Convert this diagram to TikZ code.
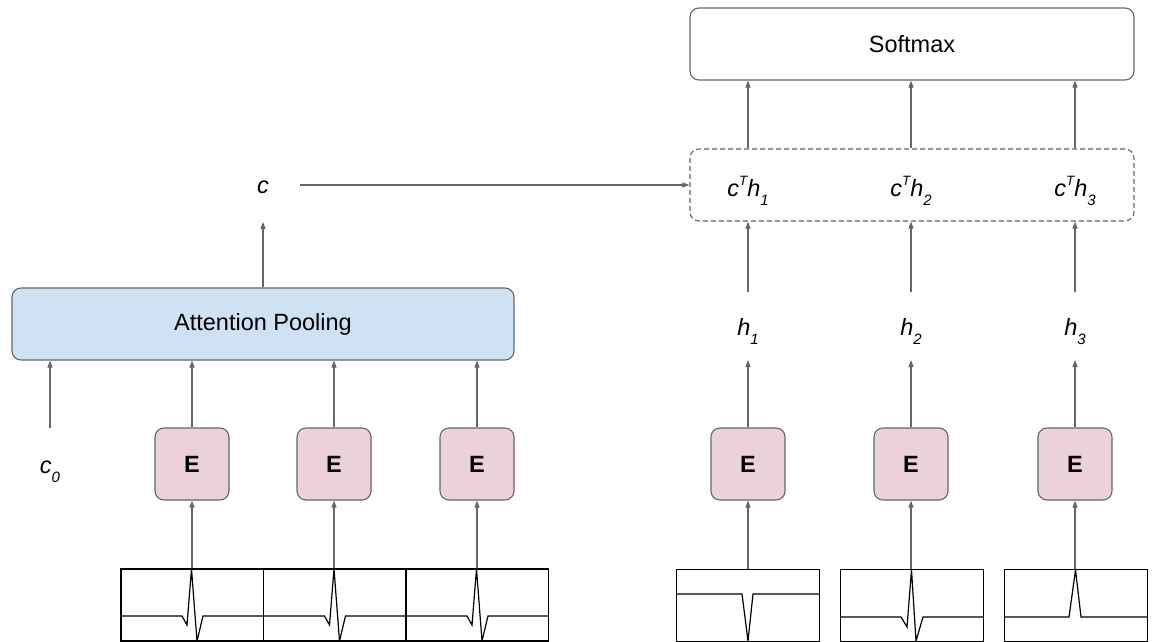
\documentclass[tikz,border=0pt]{standalone}
\usepackage{fontspec}
\setmainfont{Liberation Sans}
\usetikzlibrary{arrows.meta}
\definecolor{lineg}{HTML}{666666}
\definecolor{epink}{HTML}{EAD1DC}
\definecolor{attblue}{HTML}{CFE2F3}
\newcommand{\lowsub}[1]{\raisebox{-9pt}{\fontsize{15}{15}\selectfont\itshape #1}}
\newcommand{\highsup}[1]{\raisebox{10.5pt}{\fontsize{13.5}{14}\selectfont\itshape #1}}
\begin{document}
\begin{tikzpicture}[x=1pt,y=-1pt,
  every node/.style={font=\fontsize{23.5}{28}\selectfont},
  box/.style={draw=lineg, line width=1.1pt, rounded corners=9pt, inner sep=0pt},
  ebox/.style={box, fill=epink, minimum width=74pt, minimum height=72pt},
  bigbox/.style={box, minimum width=444pt, minimum height=72pt},
  wavebox/.style={draw=black, line width=1.2pt, minimum width=142.5pt, minimum height=72pt, inner sep=0pt},
  wave/.style={black, line width=1.2pt, line join=miter},
  arr/.style={draw=lineg, line width=1.1pt, -{Triangle[length=7pt,width=5pt]}},
  lbl/.style={anchor=base, inner sep=0pt}]
\path[use as bounding box] (0,0) rectangle (1155,641);

% top right boxes
\node[bigbox] (soft) at (912,44) {Softmax};
\node[bigbox, dash pattern=on 5pt off 3pt] (dash) at (912,185) {};
\node[lbl] (ct1) at (748,196) {\textit{c}\highsup{T}\textit{h}\lowsub{1}};
\node[lbl] (ct2) at (911,196) {\textit{c}\highsup{T}\textit{h}\lowsub{2}};
\node[lbl] (ct3) at (1075,196) {\textit{c}\highsup{T}\textit{h}\lowsub{3}};

% attention pooling
\node[box, fill=attblue, minimum width=502pt, minimum height=72pt] (att) at (263,324) {Attention Pooling};
\node[lbl] (c) at (263,193) {\textit{c}};
\node[lbl] (c0) at (50,473) {\textit{c}\lowsub{0}};

% labels h
\node[lbl] (h1) at (748,335) {\textit{h}\lowsub{1}};
\node[lbl] (h2) at (911,335) {\textit{h}\lowsub{2}};
\node[lbl] (h3) at (1075,335) {\textit{h}\lowsub{3}};

% encoder boxes
\node[ebox] (e1) at (192,464) {\textbf{E}};
\node[ebox] (e2) at (334,464) {\textbf{E}};
\node[ebox] (e3) at (477,464) {\textbf{E}};
\node[ebox] (er1) at (748,464) {\textbf{E}};
\node[ebox] (er2) at (911,464) {\textbf{E}};
\node[ebox] (er3) at (1075,464) {\textbf{E}};

% wave boxes
\node[wavebox] (w1) at (192.25,605) {};
\node[wavebox] (w2) at (334.75,605) {};
\node[wavebox] (w3) at (477.25,605) {};
\node[wavebox] (wr1) at (748,605.5) {};
\node[wavebox] (wr2) at (912,605.5) {};
\node[wavebox] (wr3) at (1076,605.5) {};

% waveforms
\foreach \L in {121,263.5,406}{
  \draw[wave] (\L,616) -- (\L+61,616) -- (\L+66,625) -- (\L+70.5,569) -- (\L+76,641) -- (\L+82,616) -- (\L+142.5,616);
}
\draw[wave] (677,594) -- (742,594) -- (748,641) -- (753,594) -- (819,594);
\draw[wave] (841,617) -- (901,617) -- (907,627) -- (911.5,570) -- (916,641) -- (923,617) -- (983,617);
\draw[wave] (1005,617) -- (1069,617) -- (1075.5,570) -- (1081,617) -- (1147,617);

% coordinates
\coordinate (c0s) at (50,428);
\coordinate (ctip) at (263,222);
\coordinate (cstart) at (300,185);
\coordinate (h1s) at (748,292);
\coordinate (h2s) at (911,292);
\coordinate (h3s) at (1075,292);
\coordinate (h1t) at (748,360);
\coordinate (h2t) at (911,360);
\coordinate (h3t) at (1075,360);

% arrows
\foreach \w/\e in {w1/e1,w2/e2,w3/e3,wr1/er1,wr2/er2,wr3/er3}{
  \draw[arr] (\w.north -| \e.south) -- (\e.south);
}
\foreach \e in {e1,e2,e3}{
  \draw[arr] (\e.north) -- (\e.north |- att.south);
}
\draw[arr] (c0s) -- (c0s |- att.south);
\draw[arr] (att.north) -- (ctip);
\draw[arr] (cstart) -- (dash.west);
\draw[arr] (er1.north) -- (h1t);
\draw[arr] (er2.north) -- (h2t);
\draw[arr] (er3.north) -- (h3t);
\draw[arr] (h1s) -- (h1s |- dash.south);
\draw[arr] (h2s) -- (h2s |- dash.south);
\draw[arr] (h3s) -- (h3s |- dash.south);
\draw[arr] (h1s |- dash.north) -- (h1s |- soft.south);
\draw[arr] (h2s |- dash.north) -- (h2s |- soft.south);
\draw[arr] (h3s |- dash.north) -- (h3s |- soft.south);
\end{tikzpicture}
\end{document}
